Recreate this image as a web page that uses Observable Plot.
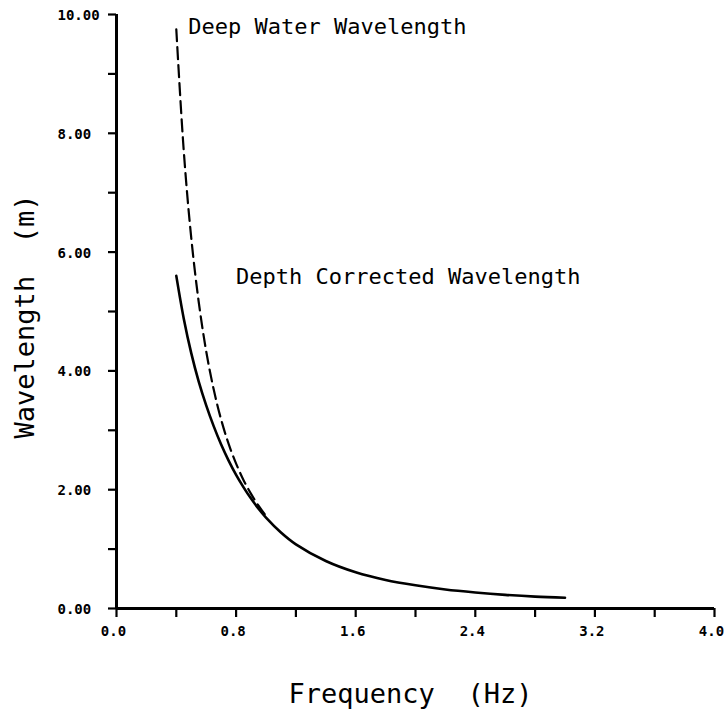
<!DOCTYPE html>
<html>
<head>
<meta charset="utf-8">
<script src="https://cdn.jsdelivr.net/npm/d3@7"></script>
<script src="https://cdn.jsdelivr.net/npm/@observablehq/plot@0.6"></script>
<style>
  html, body { margin: 0; padding: 0; background: #fff; }
  #chart svg { display: block; }
</style>
</head>
<body>
<div id="chart"></div>
<script>
// Frequency (Hz) samples and wavelengths (m)
const freqDeep = [0.40, 0.45, 0.50, 0.55, 0.60, 0.65, 0.70, 0.75, 0.80, 0.85, 0.90, 0.95, 1.00];
const deepWavelength = [9.75, 7.70, 6.24, 5.16, 4.33, 3.69, 3.18, 2.77, 2.44, 2.16, 1.93, 1.73, 1.56];

const freqCorr = [0.40, 0.45, 0.50, 0.55, 0.60, 0.65, 0.70, 0.75, 0.80, 0.85, 0.90, 0.95, 1.00,
                  1.10, 1.20, 1.40, 1.60, 1.80, 2.00, 2.20, 2.40, 2.60, 2.80, 3.00];
const corrWavelength = [5.60, 4.88, 4.30, 3.82, 3.42, 3.07, 2.76, 2.49, 2.25, 2.04, 1.85, 1.68, 1.53,
                        1.28, 1.08, 0.80, 0.61, 0.48, 0.39, 0.32, 0.27, 0.23, 0.20, 0.18];

// Axis ticks
const xTicks = [0, 0.4, 0.8, 1.2, 1.6, 2.0, 2.4, 2.8, 3.2, 3.6, 4.0];
const xLabels = [0, 0.8, 1.6, 2.4, 3.2, 4.0];
const yTicks = [0, 1, 2, 3, 4, 5, 6, 7, 8, 9, 10];
const yLabels = [0, 2, 4, 6, 8, 10];

// Curve labels (anchored in data units)
const curveLabels = ["Deep Water Wavelength", "Depth Corrected Wavelength"];
const curveLabelX = [0.48, 0.80];
const curveLabelY = [9.68, 5.47];

const deepData = freqDeep.map((f, i) => ({f, L: deepWavelength[i]}));
const corrData = freqCorr.map((f, i) => ({f, L: corrWavelength[i]}));
const labelData = curveLabels.map((t, i) => ({t, x: curveLabelX[i], y: curveLabelY[i]}));

const mono = "'DejaVu Sans Mono', 'Liberation Mono', monospace";

const chart = Plot.plot({
  width: 724,
  height: 717,
  marginLeft: 116,
  marginTop: 14,
  marginRight: 10,
  marginBottom: 109,
  style: {fontFamily: mono, background: "#fff", color: "#000"},
  x: {domain: [0, 4], axis: null},
  y: {domain: [0, 10], axis: null},
  marks: [
    // ticks
    Plot.axisX({ticks: xTicks, tickSize: 9, tickFormat: () => "", strokeWidth: 2.2}),
    Plot.axisY({ticks: yTicks, tickSize: 8, tickFormat: () => "", strokeWidth: 2.2}),
    // axis lines
    Plot.ruleY([0], {stroke: "#000", strokeWidth: 3}),
    Plot.ruleX([0], {stroke: "#000", strokeWidth: 3}),
    // tick labels
    Plot.text(yLabels, {
      y: d => d, text: d => d.toFixed(2), frameAnchor: "left", dx: -59, dy: 1,
      textAnchor: "start", fontSize: 14, fontWeight: "bold", fontFamily: mono, fill: "#000"
    }),
    Plot.text(xLabels, {
      x: d => d, text: d => d.toFixed(1), frameAnchor: "bottom", dx: -3, dy: 27,
      lineAnchor: "bottom", fontSize: 14, fontWeight: "bold", fontFamily: mono, fill: "#000"
    }),
    // axis titles
    Plot.text(["Frequency  (Hz)"], {
      frameAnchor: "bottom", dx: -5, dy: 94, lineAnchor: "bottom",
      fontSize: 27, fontFamily: mono, fill: "#000"
    }),
    Plot.text(["Wavelength  (m)"], {
      frameAnchor: "left", dx: -83, dy: 5, rotate: -90, lineAnchor: "bottom",
      textAnchor: "middle", fontSize: 27, fontFamily: mono, fill: "#000"
    }),
    // curves
    Plot.line(deepData, {x: "f", y: "L", curve: "catmull-rom", stroke: "#000",
      strokeWidth: 2.2, strokeDasharray: "12,6"}),
    Plot.line(corrData, {x: "f", y: "L", curve: "catmull-rom", stroke: "#000",
      strokeWidth: 2.6}),
    // curve labels
    Plot.text(labelData, {x: "x", y: "y", text: "t", textAnchor: "start",
      lineAnchor: "bottom", fontSize: 22, fontFamily: mono, fill: "#000"})
  ]
});
document.getElementById("chart").appendChild(chart);
</script>
</body>
</html>
